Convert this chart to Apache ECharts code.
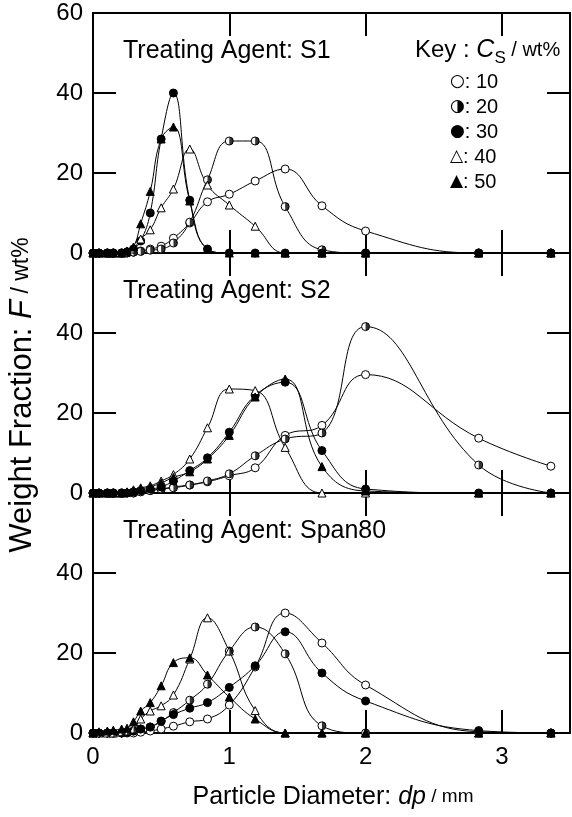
<!DOCTYPE html>
<html><head><meta charset="utf-8">
<script src="https://cdn.jsdelivr.net/npm/echarts@6/dist/echarts.min.js"></script>
<style>html,body{margin:0;padding:0;background:#fff}#c{width:572px;height:817px}</style>
</head><body><div id="c"></div>
<script>
// ---- data ----
const diameters = [0, 0.044, 0.105, 0.149, 0.21, 0.25, 0.297, 0.35, 0.42, 0.5, 0.59, 0.71, 0.84, 1.0, 1.19, 1.41, 1.68, 2.0, 2.83, 3.36];
const concentrations = ['10', '20', '30', '40', '50'];
const panelTitles = ['Treating Agent: S1', 'Treating Agent: S2', 'Treating Agent: Span80'];
const xTickValues = [0, 1, 2, 3];
const yTickValues = [0, 20, 40, 60];

const s1_10 = [0,0,0,0,0,0,0.2,0.5,1.0,1.7,3.7,7.5,12.8,14.7,18,21,11.8,5.5,0,0];
const s1_20 = [0,0,0,0,0,0,0.2,0.4,0.7,1.0,2.5,7.7,18.3,28,28,11.6,0.8,0,0,0];
const s1_30 = [0,0,0,0,0,0.3,1.0,3.0,10,28.5,40,13.2,1.0,0,0,0,0,0,0,0];
const s1_40 = [0,0,0,0,0,0.3,1.0,3.5,5.8,11.3,16,26,17,12,6.7,0,0,0,0,0];
const s1_50 = [0,0,0,0,0,0.5,1.5,7.3,15.4,28.5,31.5,13,1,0,0,0,0,0,0,0];

const s2_10 = [0,0,0,0,0,0,0,0.3,0.6,1.0,1.5,2,2.8,4.3,6.3,14.4,16.9,29.6,13.7,6.7];
const s2_20 = [0,0,0,0,0,0,0,0.3,0.6,1.0,1.3,2,3,4.8,9.3,13.5,15,41.6,7,0];
const s2_30 = [0,0,0,0,0,0,0.3,0.6,1,1.5,3,5.6,8.8,15.2,24.4,27.7,10.6,1,0,0];
const s2_40 = [0,0,0,0,0,0.3,0.8,1.3,1.8,3,4.6,8.5,16.3,26,25.6,11.4,0,0,0,0];
const s2_50 = [0,0,0,0,0,0.2,0.5,1,1.5,2.5,3.9,5.3,8.5,14.4,24,28.5,6.6,0.5,0,0];

const s3_10 = [0,0,0,0,0,0,0,0.2,0.5,1,1.7,2.8,3.5,7,16.5,30,22.5,12,0.3,0];
const s3_20 = [0,0,0,0,0,0.2,0.5,1,1.5,2.9,5.1,8.2,12.2,20.5,26.5,19.8,1.8,0,0,0];
const s3_30 = [0,0,0,0,0,0.2,0.5,1,1.5,3,4.6,6.2,7.6,11.4,16.8,25.3,15,8,0.6,0];
const s3_40 = [0,0,0,0,0.3,0.5,1,3.5,5.5,6.8,9.5,18.5,28.8,20.5,5.6,0,0,0,0,0];
const s3_50 = [0,0.3,0.5,0.7,1,1.2,2.8,5.5,7.6,11.8,17.6,18.8,14.5,9,3.5,0,0,0,0,0];

const panels = [
  [s1_10, s1_20, s1_30, s1_40, s1_50],
  [s2_10, s2_20, s2_30, s2_40, s2_50],
  [s3_10, s3_20, s3_30, s3_40, s3_50]
];

// ---- layout / style ----
const FONT = "'Liberation Sans', Arial, Helvetica, sans-serif";
const SYM_FONT = "'DejaVu Sans', sans-serif";
const gridLeft = 93, gridWidth = 477, gridTop0 = 13, gridH = 240;
const tickLen = 23;
const lineW = 2;

const markerDefs = [
  { symbol: 'circle', fill: '#fff' },
  { symbol: 'circle', fill: '#fff', half: true },
  { symbol: 'circle', fill: '#000' },
  { symbol: 'triangle', fill: '#fff' },
  { symbol: 'triangle', fill: '#000' }
];
const halfDisc = 'path://M-1,0L-1,0M0,0A1,1 0 0,1 0,2Z';
const MS = 8;

const grids = [], xAxes = [], yAxes = [], series = [];
const axisLineCfg = { show: true, onZero: false, lineStyle: { color: '#000', width: lineW } };
const tickCfg = { show: true, inside: true, length: tickLen, lineStyle: { color: '#000', width: lineW } };

panels.forEach((panel, p) => {
  grids.push({ left: gridLeft, width: gridWidth, top: gridTop0 + p * gridH, height: gridH, outerBoundsMode: 'none', containLabel: false });
  const xBase = { type: 'value', gridIndex: p, min: 0, max: 3.5, interval: 1,
    axisLine: axisLineCfg, axisTick: tickCfg, splitLine: { show: false } };
  xAxes.push(Object.assign({}, xBase, { position: 'bottom',
    axisLabel: { show: p === 2, color: '#000', fontSize: 24, fontFamily: FONT, margin: 12,
      formatter: v => (xTickValues.indexOf(v) >= 0 ? String(v) : '') } }));
  xAxes.push(Object.assign({}, xBase, { position: 'top', axisLabel: { show: false } }));
  const yBase = { type: 'value', gridIndex: p, min: 0, max: 60, interval: 20,
    axisLine: axisLineCfg, axisTick: tickCfg, splitLine: { show: false } };
  yAxes.push(Object.assign({}, yBase, { position: 'left',
    axisLabel: { show: true, color: '#000', fontSize: 24, fontFamily: FONT, margin: 10,
      formatter: v => ((p > 0 && v === 60) || yTickValues.indexOf(v) < 0 ? '' : String(v)) } }));
  yAxes.push(Object.assign({}, yBase, { position: 'right', axisLabel: { show: false } }));

  panel.forEach((vals, k) => {
    const m = markerDefs[k];
    const data = diameters.map((d, i) => [d, vals[i]]);
    series.push({
      type: 'line', name: concentrations[k], xAxisIndex: 2 * p, yAxisIndex: 2 * p,
      data: data, smooth: 0.45, symbol: m.symbol, symbolSize: MS, showAllSymbol: true,
      lineStyle: { color: '#000', width: 1 },
      itemStyle: { color: m.fill, borderColor: '#000', borderWidth: 1 },
      z: 3, silent: true
    });
    if (m.half) {
      series.push({
        type: 'scatter', name: concentrations[k] + '-half', xAxisIndex: 2 * p, yAxisIndex: 2 * p,
        data: data, symbol: halfDisc, symbolSize: MS,
        itemStyle: { color: '#000', borderWidth: 0 }, z: 4, silent: true
      });
    }
  });
});

// ---- texts ----
const graphics = [];
panelTitles.forEach((t, p) => {
  graphics.push({ type: 'text', left: 123, top: gridTop0 + p * gridH + 26,
    style: { text: t, font: `25px ${FONT}`, fill: '#000' } });
});
graphics.push({ type: 'text', left: 415, top: 38,
  style: { text: '{k|Key : }{c|C}{s|S}{u| / wt%}', fill: '#000',
    rich: {
      k: { fontSize: 24, fontFamily: FONT, lineHeight: 32, verticalAlign: 'middle' },
      c: { fontSize: 25, fontFamily: FONT, fontStyle: 'italic', lineHeight: 32, verticalAlign: 'middle' },
      s: { fontSize: 17, fontFamily: FONT, lineHeight: 16, verticalAlign: 'bottom' },
      u: { fontSize: 20, fontFamily: FONT, lineHeight: 32, verticalAlign: 'middle' }
    } } });
const keyGlyphs = ['\u25CB', '\u25D1', '\u25CF', '\u25B3', '\u25B2'];
concentrations.forEach((c, k) => {
  graphics.push({ type: 'text', x: 450, y: 82 + k * 25,
    style: { text: `{g|${keyGlyphs[k]}}{t|: ${c}}`, fill: '#000', textVerticalAlign: 'middle',
      rich: {
        g: { fontSize: 17, fontFamily: SYM_FONT },
        t: { fontSize: 20, fontFamily: FONT }
      } } });
});
graphics.push({ type: 'text', x: 22, y: 395, rotation: Math.PI / 2,
  style: { text: '{a|Weight Fraction: }{b|F}{c| / wt%}', fill: '#000', textAlign: 'center', textVerticalAlign: 'middle',
    rich: {
      a: { fontSize: 31, fontFamily: FONT },
      b: { fontSize: 31, fontFamily: FONT, fontStyle: 'italic' },
      c: { fontSize: 23, fontFamily: FONT }
    } } });
graphics.push({ type: 'text', x: 333, y: 797,
  style: { text: '{a|Particle Diameter: }{b|dp}{c| / mm}', fill: '#000', textAlign: 'center', textVerticalAlign: 'middle',
    rich: {
      a: { fontSize: 25, fontFamily: FONT },
      b: { fontSize: 25, fontFamily: FONT, fontStyle: 'italic' },
      c: { fontSize: 19, fontFamily: FONT }
    } } });

const chart = echarts.init(document.getElementById('c'), null, { renderer: 'canvas' });
chart.setOption({
  animation: false,
  backgroundColor: '#fff',
  grid: grids,
  xAxis: xAxes,
  yAxis: yAxes,
  series: series,
  graphic: graphics
});
</script>
</body></html>
